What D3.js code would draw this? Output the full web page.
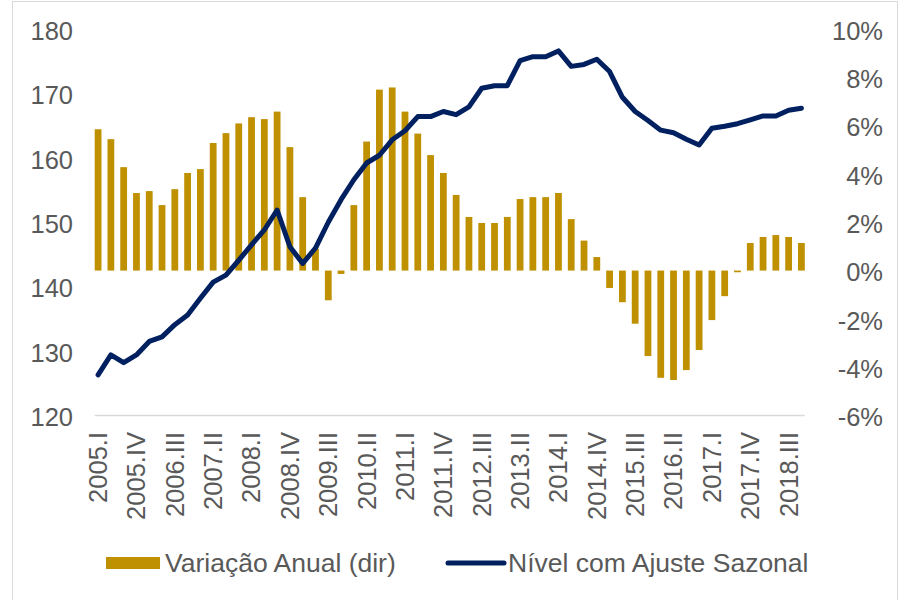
<!DOCTYPE html>
<html lang="pt">
<head>
    <meta charset="UTF-8">
    <title>Variação Anual e Nível com Ajuste Sazonal</title>
    <script src="https://d3js.org/d3.v7.min.js"></script>
    <style>
        body { margin: 0; background: #fff; }
        text { font-family: "Liberation Sans", Arial, sans-serif; fill: #595959; }
    </style>
</head>
<body>
<div id="chart"></div>

<script>
    // Quarters 2005.I .. 2018.IV
    const romans = ["I", "II", "III", "IV"];
    const quarters = [];
    for (let y = 2005; y <= 2018; y++) {
        romans.forEach(r => quarters.push(y + "." + r));
    }

    // Annual change, % (right axis)
    const variacao = [
        5.85, 5.44, 4.28, 3.21, 3.29, 2.71, 3.37, 4.04, 4.20, 5.28,
        5.69, 6.09, 6.35, 6.27, 6.58, 5.11, 3.04, 0.90, -1.23, -0.14,
        2.71, 5.34, 7.49, 7.58, 6.58, 5.67, 4.78, 4.04, 3.13, 2.22,
        1.97, 1.97, 2.22, 2.96, 3.04, 3.04, 3.21, 2.13, 1.24, 0.56,
        -0.72, -1.31, -2.20, -3.54, -4.44, -4.53, -4.12, -3.29, -2.05, -1.06,
        -0.07, 1.14, 1.39, 1.47, 1.39, 1.14
    ];

    // Seasonally adjusted level (left axis)
    const nivel = [
        126.3, 129.4, 128.2, 129.4, 131.5, 132.2, 134.1, 135.6, 138.2, 140.7,
        141.8, 144.1, 146.5, 148.8, 151.9, 146.2, 143.6, 146.0, 150.0, 153.5,
        156.6, 159.2, 160.4, 162.8, 164.2, 166.4, 166.4, 167.2, 166.7, 167.9,
        170.8, 171.2, 171.2, 175.1, 175.7, 175.7, 176.6, 174.2, 174.5, 175.3,
        173.4, 169.4, 167.2, 165.8, 164.3, 163.9, 162.9, 162.0, 164.6, 164.9,
        165.3, 165.9, 166.5, 166.5, 167.4, 167.7
    ];

    const leftTicks = [120, 130, 140, 150, 160, 170, 180];
    const rightTicks = [-6, -4, -2, 0, 2, 4, 6, 8, 10];
    const tickLabels = quarters.filter((q, i) => i % 3 === 0);

    const width = 905;
    const height = 600;
    const gold = "#bf9000";
    const navy = "#002060";

    const svg = d3.select("#chart").append("svg")
        .attr("width", width)
        .attr("height", height);

    // light frame around the chart
    svg.append("rect")
        .attr("x", 12.5).attr("y", 1.5)
        .attr("width", 885).attr("height", 620)
        .attr("fill", "none")
        .attr("stroke", "#d9d9d9");

    const x = d3.scaleBand()
        .domain(quarters)
        .range([94.7, 804.8])
        .paddingInner(0.47);

    const yLeft = d3.scaleLinear().domain([120, 180]).range([415.5, 29]);
    const yRight = d3.scaleLinear().domain([-6, 10]).range([415.5, 29]);

    // bottom line
    svg.append("line")
        .attr("x1", 94.7).attr("x2", 804.8)
        .attr("y1", yLeft(120)).attr("y2", yLeft(120))
        .attr("stroke", "#d9d9d9")
        .attr("stroke-width", 1.3);

    // left axis
    const axL = svg.append("g")
        .attr("transform", "translate(73,0)")
        .call(d3.axisLeft(yLeft).tickValues(leftTicks).tickSize(0).tickPadding(0));
    axL.select(".domain").remove();
    axL.selectAll("text").style("font-size", "25.5px").attr("dy", "0.4em");

    // right axis
    const axR = svg.append("g")
        .attr("transform", "translate(883,0)")
        .call(d3.axisLeft(yRight).tickValues(rightTicks).tickSize(0).tickPadding(0)
            .tickFormat(d => d + "%"));
    axR.select(".domain").remove();
    axR.selectAll("text").style("font-size", "25.5px").attr("dy", "0.4em");

    // bars
    svg.append("g")
        .selectAll("rect")
        .data(variacao)
        .enter().append("rect")
        .attr("x", (d, i) => x(quarters[i]))
        .attr("width", x.bandwidth())
        .attr("y", d => yRight(Math.max(0, d)))
        .attr("height", d => Math.abs(yRight(d) - yRight(0)))
        .attr("fill", gold);

    // line
    const line = d3.line()
        .x((d, i) => x(quarters[i]) + x.bandwidth() / 2)
        .y(d => yLeft(d));

    svg.append("path")
        .datum(nivel)
        .attr("d", line)
        .attr("fill", "none")
        .attr("stroke", navy)
        .attr("stroke-width", 5)
        .attr("stroke-linejoin", "round")
        .attr("stroke-linecap", "round");

    // x tick labels (rotated)
    svg.append("g")
        .selectAll("text")
        .data(tickLabels)
        .enter().append("text")
        .attr("transform", d => "translate(" + (x(d) + x.bandwidth() / 2) + ",432) rotate(-90)")
        .attr("text-anchor", "end")
        .attr("dy", "0.35em")
        .style("font-size", "25.5px")
        .text(d => d);

    // legend
    const legend = svg.append("g");
    legend.append("rect")
        .attr("x", 106).attr("y", 557)
        .attr("width", 54).attr("height", 12)
        .attr("fill", gold);
    legend.append("text")
        .attr("x", 165).attr("y", 563)
        .attr("dy", "0.35em")
        .style("font-size", "26.5px")
        .text("Variação Anual (dir)");
    legend.append("line")
        .attr("x1", 448).attr("x2", 504)
        .attr("y1", 563).attr("y2", 563)
        .attr("stroke", navy)
        .attr("stroke-width", 5)
        .attr("stroke-linecap", "round");
    legend.append("text")
        .attr("x", 508).attr("y", 563)
        .attr("dy", "0.35em")
        .style("font-size", "26.5px")
        .text("Nível com Ajuste Sazonal");
</script>
</body>
</html>
